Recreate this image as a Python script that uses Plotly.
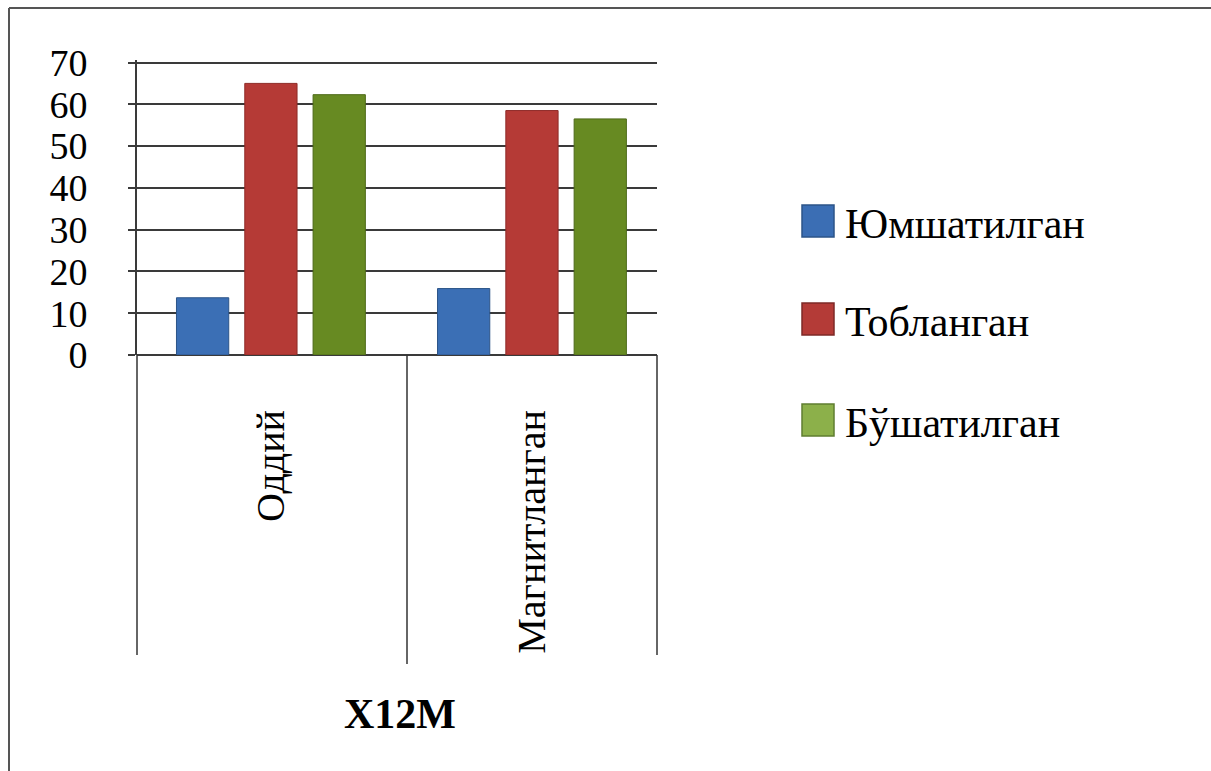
import plotly.graph_objects as go

categories = ["Оддий", "Магнитланган"]
series_names = ["Юмшатилган", "Тобланган", "Бўшатилган"]
soft_values = [13.7, 15.9]        # Юмшатилган
hard_values = [65.0, 58.5]        # Тобланган
released_values = [62.3, 56.5]    # Бўшатилган
y_ticks = [0, 10, 20, 30, 40, 50, 60, 70]
chart_title = "X12M"

bar_colors = ["#3b6fb5", "#b53a36", "#678a22"]
bar_lines = ["#2c5488", "#8e2b28", "#4d6a18"]
legend_colors = ["#3b6eb4", "#b43b37", "#8cb04a"]
legend_lines = ["#2c5488", "#7d2a27", "#5f7d30"]

W, H = 1211, 771
L, R, T, B = 137, 657, 60, 355
Y_MAX = 70.6

def px2x(px):
    return (px - L) / (R - L)

def px2y(py):
    return (B - py) / (B - T)

fig = go.Figure()
for name, vals, c, lc in zip(series_names, [soft_values, hard_values, released_values], bar_colors, bar_lines):
    fig.add_trace(go.Bar(name=name, x=categories, y=vals,
                         marker=dict(color=c, line=dict(color=lc, width=1)),
                         showlegend=False))

font_family = "Liberation Serif"
shapes = []
annotations = []

# frame lines (top and left)
shapes.append(dict(type="line", xref="paper", yref="paper", x0=px2x(9), x1=px2x(1215), y0=px2y(8), y1=px2y(8),
                   line=dict(color="#555555", width=2)))
shapes.append(dict(type="line", xref="paper", yref="paper", x0=px2x(9), x1=px2x(9), y0=px2y(8), y1=px2y(775),
                   line=dict(color="#555555", width=2)))
# category separators below axis
for px, bottom in [(137, 655), (407, 664), (657, 655)]:
    shapes.append(dict(type="line", xref="paper", yref="paper", x0=px2x(px), x1=px2x(px), y0=0, y1=px2y(bottom),
                       line=dict(color="#333333", width=1.5)))

# manual legend
legend_rows = [221, 319, 420]
for name, cy, c, lc in zip(series_names, legend_rows, legend_colors, legend_lines):
    shapes.append(dict(type="rect", xref="paper", yref="paper",
                       x0=px2x(802), x1=px2x(834), y0=px2y(cy - 16), y1=px2y(cy + 16),
                       fillcolor=c, line=dict(color=lc, width=1.5)))
    annotations.append(dict(text=name, xref="paper", yref="paper", x=px2x(843), y=px2y(cy + 3),
                            xanchor="left", yanchor="middle", showarrow=False,
                            font=dict(family=font_family, size=42, color="#000000")))

annotations.append(dict(text="<b>" + chart_title + "</b>", xref="paper", yref="paper",
                        x=px2x(400), y=px2y(714), xanchor="center", yanchor="middle", showarrow=False,
                        font=dict(family=font_family, size=42, color="#000000")))

fig.update_layout(
    width=W, height=H,
    margin=dict(l=L, r=W - R, t=T, b=H - B, autoexpand=False),
    paper_bgcolor="white", plot_bgcolor="white",
    barmode="group", bargap=0.215, bargroupgap=0.235,
    shapes=shapes, annotations=annotations,
    font=dict(family=font_family, color="#000000"),
)
fig.update_xaxes(
    type="category", range=[-0.513, 1.479],
    showgrid=False, showline=False, ticks="",
    tickangle=-90, ticklabelstandoff=46,
    tickfont=dict(family=font_family, size=40, color="#000000"),
)
fig.update_yaxes(
    range=[0, Y_MAX], tickvals=y_ticks, ticktext=[str(v) for v in y_ticks],
    showgrid=True, gridcolor="#3a3a3a", gridwidth=2,
    showline=True, linecolor="#3a3a3a", linewidth=2,
    ticks="outside", ticklen=7, tickcolor="#3a3a3a", tickwidth=2,
    ticklabelstandoff=33,
    zeroline=True, zerolinecolor="#3a3a3a", zerolinewidth=2,
    tickfont=dict(family=font_family, size=38, color="#000000"),
)

fig.write_html("out.html")
